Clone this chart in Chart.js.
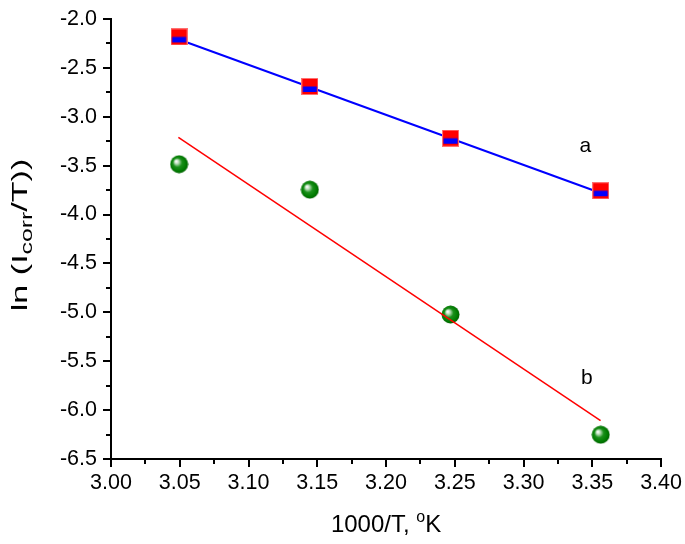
<!DOCTYPE html>
<html>
<head>
<meta charset="utf-8">
<script src="https://cdn.jsdelivr.net/npm/chart.js@4.4.1/dist/chart.umd.min.js"></script>
<style>
  html, body { margin: 0; padding: 0; background: #fff; }
  #wrap { width: 685px; height: 544px; position: relative; }
</style>
</head>
<body>
<div id="wrap"><canvas id="c" width="685" height="544"></canvas></div>
<script>
// ---- data ----
const xValues = [3.0495, 3.1446, 3.2469, 3.3561];       // 1000/T
const seriesA = [-2.184, -2.691, -3.220, -3.757];      // curve a
const seriesB = [-3.486, -3.746, -5.023, -6.252];      // curve b
const fitAx = [3.0495, 3.3561];
const fitAy = [-2.210, -3.780];
const fitBx = [3.049, 3.356];
const fitBy = [-3.212, -6.108];
const xTicks = ['3.00','3.05','3.10','3.15','3.20','3.25','3.30','3.35','3.40'];
const yTicks = ['-2.0','-2.5','-3.0','-3.5','-4.0','-4.5','-5.0','-5.5','-6.0','-6.5'];
const curveLabels = [{text: 'a', x: 3.345, y: -3.30}, {text: 'b', x: 3.346, y: -5.67}];

const FONT = '"Liberation Sans", Arial, sans-serif';

function pts(xs, ys) { return xs.map((x, i) => ({x: x, y: ys[i]})); }
function labelFor(list, v) {
  const f = list.find(t => Math.abs(parseFloat(t) - v) < 1e-6);
  return f === undefined ? '' : f;
}

// square marker: red square with blue lower band
function makeSquare() {
  const c = document.createElement('canvas');
  c.width = 17; c.height = 17;
  const g = c.getContext('2d');
  g.fillStyle = '#ff7070';
  g.fillRect(0, 0, 17, 17);
  g.fillStyle = '#ff0000';
  g.fillRect(1, 1, 15, 15);
  g.fillStyle = '#0000ff';
  g.fillRect(1.5, 8.5, 14, 5.5);
  return c;
}
// green sphere marker
function makeSphere() {
  const c = document.createElement('canvas');
  c.width = 19; c.height = 19;
  const g = c.getContext('2d');
  const grd = g.createRadialGradient(6.5, 6.5, 0.5, 9.5, 9.5, 9.5);
  grd.addColorStop(0, '#ffffff');
  grd.addColorStop(0.18, '#b8dcb8');
  grd.addColorStop(0.45, '#1a901a');
  grd.addColorStop(0.8, '#007a00');
  grd.addColorStop(1, '#005a00');
  g.fillStyle = grd;
  g.beginPath();
  g.arc(9.5, 9.5, 9, 0, Math.PI * 2);
  g.fill();
  return c;
}

const minorTicks = {
  id: 'minorTicks',
  afterDraw(chart) {
    const ctx = chart.ctx;
    const xs = chart.scales.x, ys = chart.scales.y;
    const a = chart.chartArea;
    ctx.save();
    ctx.strokeStyle = '#000';
    ctx.lineWidth = 2;
    ctx.beginPath();
    for (let i = 0; i < xTicks.length - 1; i++) {
      const v = (parseFloat(xTicks[i]) + parseFloat(xTicks[i + 1])) / 2;
      const px = Math.round(xs.getPixelForValue(v));
      ctx.moveTo(px, a.bottom); ctx.lineTo(px, a.bottom + 5);
    }
    for (let i = 0; i < yTicks.length - 1; i++) {
      const v = (parseFloat(yTicks[i]) + parseFloat(yTicks[i + 1])) / 2;
      const py = Math.round(ys.getPixelForValue(v));
      ctx.moveTo(a.left, py); ctx.lineTo(a.left - 5, py);
    }
    ctx.stroke();

    // curve labels
    ctx.fillStyle = '#000';
    ctx.font = '21px ' + FONT;
    ctx.textAlign = 'center';
    ctx.textBaseline = 'middle';
    curveLabels.forEach(l => {
      ctx.fillText(l.text, xs.getPixelForValue(l.x), ys.getPixelForValue(l.y));
    });

    // x axis title: 1000/T, °K
    const big = '24px ' + FONT, small = '16px ' + FONT;
    ctx.textAlign = 'left';
    ctx.textBaseline = 'alphabetic';
    ctx.font = big;
    const p1 = '1000/T, ', p3 = 'K';
    const w1 = ctx.measureText(p1).width, w3 = ctx.measureText(p3).width;
    ctx.font = small;
    const w2 = ctx.measureText('o').width;
    const tot = w1 + w2 + w3;
    let x0 = (a.left + a.right) / 2 - tot / 2;
    const base = 532;
    ctx.font = big; ctx.fillText(p1, x0, base);
    ctx.font = small; ctx.fillText('o', x0 + w1, base - 10);
    ctx.font = big; ctx.fillText(p3, x0 + w1 + w2, base);

    // y axis title: ln (Icorr/T)) — stretched along its reading direction like the reference
    ctx.save();
    ctx.translate(27, (a.top + a.bottom) / 2 - 4);
    ctx.rotate(-Math.PI / 2);
    ctx.scale(1.55, 1);
    const ybig = '22px ' + FONT, ysmall = '16px ' + FONT;
    ctx.font = ybig;
    const q1 = 'ln (I', q3 = '/T))';
    const v1 = ctx.measureText(q1).width, v3 = ctx.measureText(q3).width;
    ctx.font = ysmall;
    const v2 = ctx.measureText('corr').width;
    const tt = v1 + v2 + v3;
    let y0 = -tt / 2;
    ctx.font = ybig; ctx.fillText(q1, y0, 0);
    ctx.font = ysmall; ctx.fillText('corr', y0 + v1, 5);
    ctx.font = ybig; ctx.fillText(q3, y0 + v1 + v2, 0);
    ctx.restore();
    ctx.restore();
  }
};

new Chart(document.getElementById('c'), {
  type: 'scatter',
  data: {
    datasets: [
      { type: 'line', label: 'fit b', data: pts(fitBx, fitBy), borderColor: '#ff0000', borderWidth: 1.5,
        pointRadius: 0, fill: false, order: 0 },
      { label: 'b', data: pts(xValues, seriesB), pointStyle: makeSphere(), pointRadius: 9, order: 1 },
      { label: 'a', data: pts(xValues, seriesA), pointStyle: makeSquare(), pointRadius: 9, order: 2 },
      { type: 'line', label: 'fit a', data: pts(fitAx, fitAy), borderColor: '#0000ff', borderWidth: 2,
        pointRadius: 0, fill: false, order: 3 }
    ]
  },
  options: {
    responsive: false,
    animation: false,
    layout: { padding: { left: 0, right: 21, top: 10, bottom: 0 } },
    plugins: { legend: { display: false }, tooltip: { enabled: false } },
    scales: {
      x: {
        type: 'linear', min: 3.0, max: 3.4,
        afterBuildTicks: s => { s.ticks = xTicks.map(t => ({value: parseFloat(t)})); },
        afterFit: s => { s.height = 85; },
        ticks: { callback: v => labelFor(xTicks, v), color: '#000', font: { family: FONT, size: 21.5 }, padding: 3, maxRotation: 0, autoSkip: false },
        grid: { drawOnChartArea: false, drawTicks: true, tickLength: 8, color: '#000', lineWidth: 2 },
        border: { display: true, color: '#000', width: 2 }
      },
      y: {
        type: 'linear', min: -6.5, max: -2.0,
        afterBuildTicks: s => { s.ticks = yTicks.map(t => ({value: parseFloat(t)})); },
        afterFit: s => { s.width = 111; },
        ticks: { callback: v => labelFor(yTicks, v), color: '#000', font: { family: FONT, size: 21.5 }, padding: 6, autoSkip: false },
        grid: { drawOnChartArea: false, drawTicks: true, tickLength: 8, color: '#000', lineWidth: 2 },
        border: { display: true, color: '#000', width: 2 }
      }
    }
  },
  plugins: [minorTicks]
});
</script>
</body>
</html>
